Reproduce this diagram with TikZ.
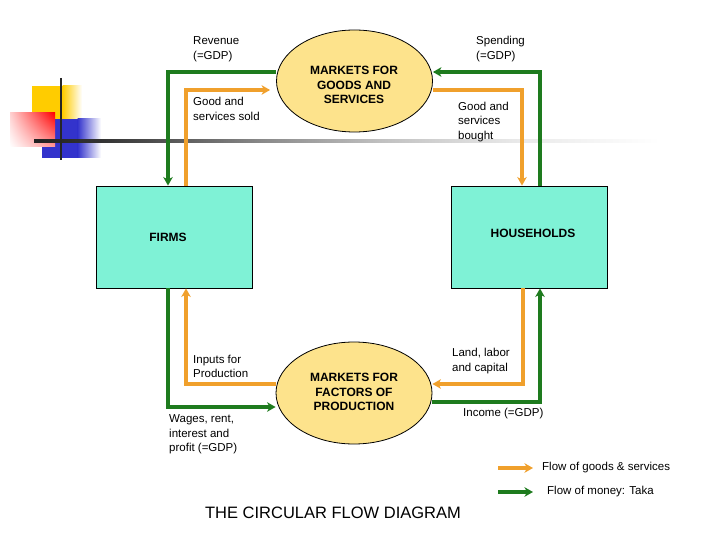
\documentclass[tikz,border=0pt]{standalone}
\usepackage{fontspec}
\setmainfont{Liberation Sans}
\usetikzlibrary{arrows.meta,shapes.geometric,shadings}
\definecolor{money}{HTML}{1E7B1E}
\definecolor{goodsc}{HTML}{F0A02C}
\definecolor{boxfill}{HTML}{7FF2D6}
\definecolor{mktfill}{HTML}{FDE38C}
\definecolor{ln0}{HTML}{222222}
\definecolor{ln1}{HTML}{333333}
\definecolor{ln2}{HTML}{555555}
\definecolor{ln3}{HTML}{888888}
\definecolor{ln4}{HTML}{C0C0C0}
\definecolor{ln5}{HTML}{E8E8E8}
\definecolor{decoyellow}{HTML}{FFCC00}
\definecolor{decoblue}{HTML}{3333CC}
\pgfdeclarehorizontalshading{fadeline}{100bp}{color(0bp)=(ln0); color(25bp)=(ln0); color(30.3bp)=(ln1); color(35.6bp)=(ln2); color(43bp)=(ln3); color(52.6bp)=(ln4); color(63.3bp)=(ln5); color(75bp)=(white); color(100bp)=(white)}
\begin{document}
\begin{tikzpicture}[x=1pt,y=-1pt,
  moneyflow/.style={draw=money, line width=3.1pt, -{Stealth[length=8.5pt,width=9.5pt,inset=2.5pt]}},
  goodsflow/.style={draw=goodsc, line width=3.1pt, -{Stealth[length=8.5pt,width=9.5pt,inset=2.5pt]}},
  lbl/.style={font=\fontsize{11.5}{14.5}\selectfont, align=left, anchor=west, inner sep=0pt},
  boldlbl/.style={font=\fontsize{12}{14.3}\selectfont\bfseries, align=center, inner sep=0pt},
  box/.style={draw=black, line width=0.9pt, fill=boxfill, minimum width=156pt, minimum height=102pt, inner sep=0pt},
  market/.style={ellipse, draw=black, line width=0.8pt, fill=mktfill, minimum width=156pt, minimum height=102pt, inner sep=0pt}]
\useasboundingbox (0,0) rectangle (720,540);

% decoration
\fill[decoyellow] (32,86) rectangle (63,120);
\shade[left color=decoyellow, right color=white] (62.5,86) rectangle (82,120);
\fill[decoblue] (42,119) rectangle (78,158);
\shade[left color=decoblue, right color=white] (77.5,119) rectangle (101,158);
\shade[upper right=red, lower right=red!40!white, upper left=red!18!white, lower left=white] (10,113) rectangle (55,147);
\shade[shading=fadeline] (34,140) rectangle (660,142.5);
\draw[line width=2.5pt, black!85] (61,78) -- (61,160);

% nodes
\node[box] (firms) at (174,237) {};
\node[box] (households) at (529,237) {};
\node[market] (goods) at (354.5,81) {};
\node[market] (factors) at (354,393) {};
\node[boldlbl] (firmslbl) at (168,237) {FIRMS};
\node[boldlbl] (hhlbl) at (533,233) {HOUSEHOLDS};
\node[boldlbl] (goodslbl) at (354,85) {MARKETS FOR\\GOODS AND\\SERVICES};
\node[boldlbl] (factorslbl) at (354,392) {MARKETS FOR\\FACTORS OF\\PRODUCTION};

% flows
\draw[moneyflow] ([yshift=9pt]goods.west) -| ([xshift=-6pt]firms.north);
\draw[goodsflow, shorten >=6pt] ([xshift=12pt]firms.north) |- ([yshift=-9pt]goods.west);
\draw[moneyflow] ([xshift=11pt]households.north) |- ([yshift=9pt]goods.east);
\draw[goodsflow] ([yshift=-9pt]goods.east) -| ([xshift=-7pt]households.north);
\draw[moneyflow] ([xshift=-6pt]firms.south) |- ([yshift=-14pt]factors.west);
\draw[goodsflow] ([yshift=9pt]factors.west) -| ([xshift=12pt]firms.south);
\draw[goodsflow] ([xshift=-6pt]households.south) |- ([yshift=9pt]factors.east);
\draw[moneyflow] ([yshift=-9pt]factors.east) -| ([xshift=11pt]households.south);

% labels
\node[lbl] (rev) at (193,49) {Revenue\\(=GDP)};
\node[lbl] (sold) at (193,109) {Good and\\services sold};
\node[lbl] (spend) at (476,49) {Spending\\(=GDP)};
\node[lbl] (bought) at (458,122) {Good and\\services\\bought};
\node[lbl] (inputs) at (193,366.5) {Inputs for\\Production};
\node[lbl] (wages) at (169,434.5) {Wages, rent,\\interest and\\profit (=GDP)};
\node[lbl] (land) at (452,361) {Land, labor\\and capital};
\node[lbl] (income) at (463,413.5) {Income (=GDP)};

% legend
\coordinate (lga) at (498,468);
\coordinate (lgb) at (533,468);
\coordinate (lgc) at (498,492);
\coordinate (lgd) at (533,492);
\draw[goodsflow] (lga) -- (lgb);
\draw[moneyflow] (lgc) -- (lgd);
\node[lbl] (lgtxt1) at (542,467.5) {Flow of goods \& services};
\node[lbl] (lgtxt2) at (547,491.5) {Flow of money: Taka};

% title
\node[font=\fontsize{16.5}{20}\selectfont, inner sep=0pt] (title) at (333,513) {THE CIRCULAR FLOW DIAGRAM};
\end{tikzpicture}
\end{document}
